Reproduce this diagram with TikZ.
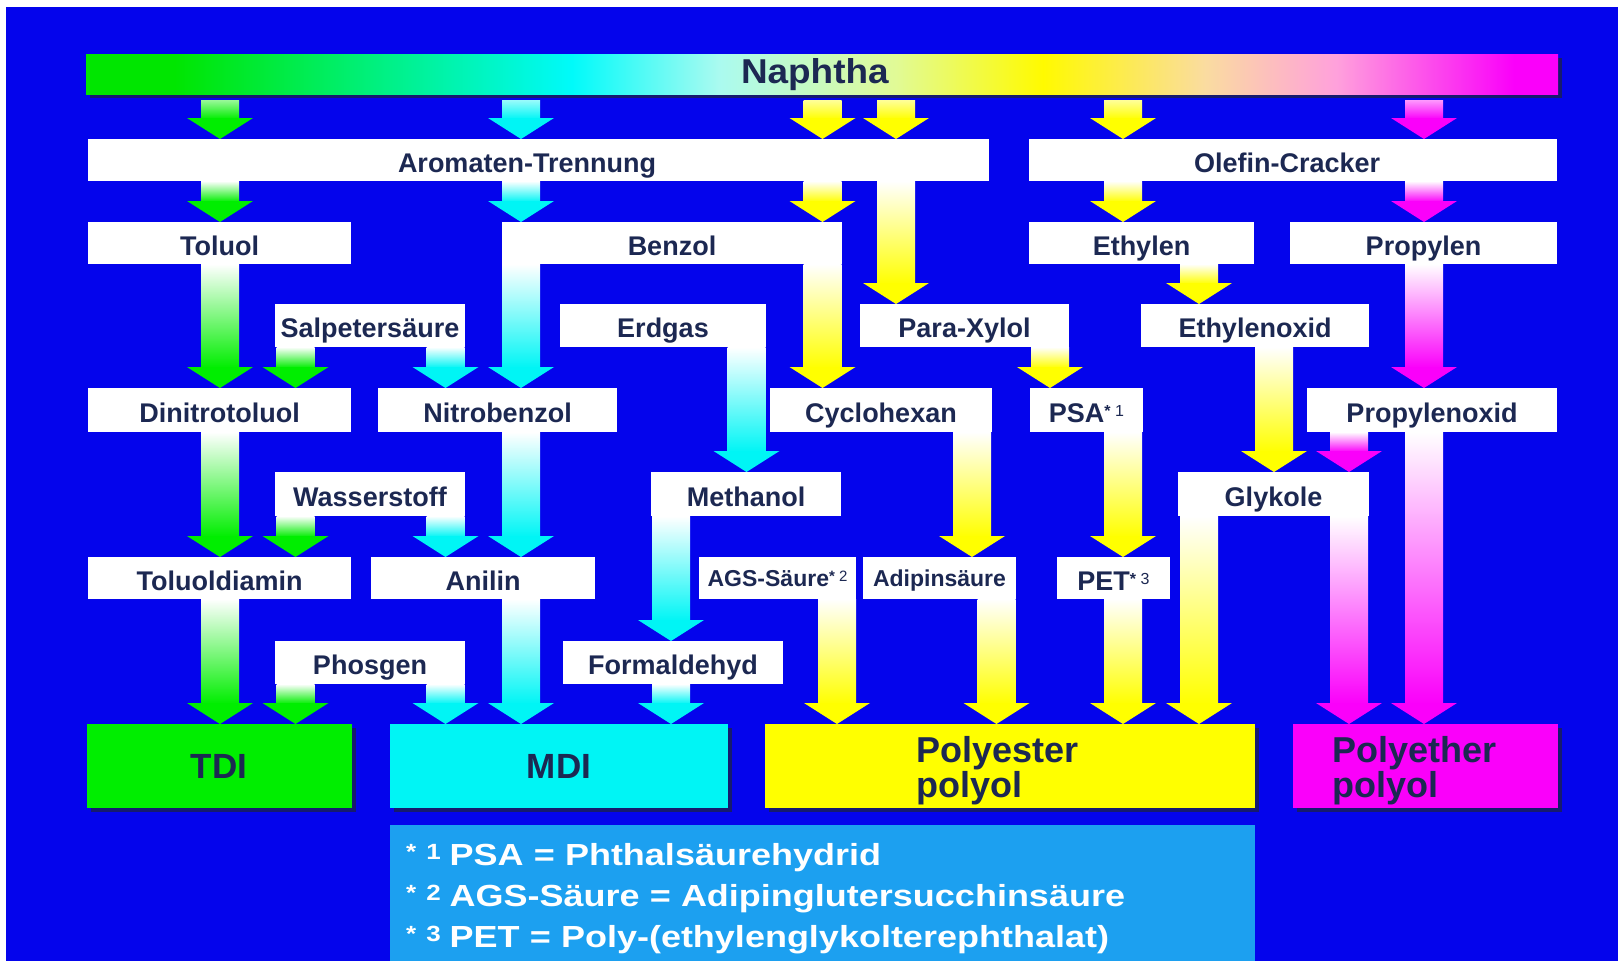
\documentclass[tikz,border=0pt]{standalone}
\usepackage{fontspec}
\setmainfont{Liberation Sans}
\newfontfamily\legendfont{Liberation Sans Bold}[FakeStretch=1.18]
\newfontfamily\titlefont{Liberation Sans Bold}[FakeStretch=1.07]
\usetikzlibrary{calc,positioning,shadows}

\definecolor{bgblue}{RGB}{4,4,236}
\definecolor{ink}{RGB}{28,40,82}
\definecolor{tdigreen}{RGB}{0,238,0}
\definecolor{mdicyan}{RGB}{0,245,245}
\definecolor{pesyellow}{RGB}{255,255,0}
\definecolor{pethmagenta}{RGB}{250,0,250}
\definecolor{legendblue}{RGB}{28,160,240}
\definecolor{shadowblue}{RGB}{22,26,110}
% colours along the naphtha bar
\definecolor{nA}{RGB}{0,230,0}
\definecolor{nB}{RGB}{0,250,250}
\definecolor{nC}{RGB}{170,250,240}
\definecolor{nD}{RGB}{225,250,150}
\definecolor{nE}{RGB}{255,250,0}
\definecolor{nF}{RGB}{250,220,160}
\definecolor{nG}{RGB}{255,160,220}
\definecolor{nH}{RGB}{250,0,250}
\pgfdeclarehorizontalshading{naphtha}{100bp}{color(0bp)=(nA); color(28bp)=(nA); color(41.5bp)=(nB); color(46.5bp)=(nC); color(52.5bp)=(nD); color(57.5bp)=(nE); color(63bp)=(nF); color(67.5bp)=(nG); color(73.5bp)=(nH); color(100bp)=(nH)}

% footnote mark: * and number
\newcommand{\fnmark}[2]{\raisebox{.2em}{\fontsize{#2}{#2}\selectfont *\ \mdseries #1}}
% block arrow: [top colour] column, source, target, colour
\newcommand{\flow}[5][white]{%
  \shade[top color=#1, bottom color=#5] let \p1=(#3.south -| #2), \p2=(#4.north -| #2) in
    (\x1-19pt,\y1) rectangle (\x1+19pt,\y2+20pt);
  \fill[#5] let \p1=(#3.south -| #2), \p2=(#4.north -| #2) in
    (\x1-33pt,\y2+21pt) -- (\x1+33pt,\y2+21pt) -- (\x1,\y2) -- cycle;
}

\begin{document}
\begin{tikzpicture}[x=1pt, y=-1pt,
    % box styles
    stage/.style={rectangle, fill=white, text=ink, inner sep=0pt, outer sep=0pt, font=\bfseries\fontsize{27}{30}\selectfont, text height=24pt, text depth=0pt},
    smallstage/.style={stage, font=\bfseries\fontsize{23}{26}\selectfont, text height=17pt},
    feed/.style={rectangle, shade, shading=naphtha, text=ink, inner sep=0pt, outer ysep=6pt, font=\titlefont\fontsize{34.5}{36}\selectfont, text height=18pt, text depth=0pt, text width=162pt, align=left, drop shadow={shadow xshift=4pt, shadow yshift=-4pt, fill=shadowblue, opacity=1}},
    product/.style={rectangle, text=ink, inner sep=0pt, outer sep=0pt, font=\bfseries\fontsize{35}{32}\selectfont, drop shadow={shadow xshift=4pt, shadow yshift=-4pt, fill=shadowblue, opacity=1}},
    mono/.style={product, text height=24pt, text depth=0pt},
    polyol/.style={product, font=\bfseries\fontsize{36}{32}\selectfont, text width=187pt, align=left},
    legendbox/.style={rectangle, fill=legendblue, text=white, inner xsep=16pt, inner ysep=0pt, text width=833pt, align=left, font=\legendfont\fontsize{30.5}{41}\selectfont}
]

\useasboundingbox (0,0) rectangle (1618,961);
\fill[white] (0,0) rectangle (1618,961);
\fill[bgblue] (6,7) rectangle (1618,961);

% Feedstock
\node[feed, minimum width=1472, minimum height=40] (naphtha) at (822, 74) {Naphtha};

% Separation
\node[stage, minimum width=901, minimum height=42, text width=281pt, align=left] (aromaten) at (538.5, 160) {Aromaten-Trennung};
\node[stage, minimum width=528, minimum height=42, text width=198pt, align=left] (olefin) at (1293, 160) {Olefin-Cracker};

% Basic chemicals
\node[stage, minimum width=263, minimum height=42] (toluol) at (219.5, 243) {Toluol};
\node[stage, minimum width=340, minimum height=42] (benzol) at (672, 243) {Benzol};
\node[stage, minimum width=225, minimum height=42] (ethylen) at (1141.5, 243) {Ethylen};
\node[stage, minimum width=267, minimum height=42] (propylen) at (1423.5, 243) {Propylen};

\node[stage, minimum width=190, minimum height=43] (salpeter) at (370, 325.5) {Salpetersäure};
\node[stage, minimum width=206, minimum height=43] (erdgas) at (663, 325.5) {Erdgas};
\node[stage, minimum width=209, minimum height=43] (para_xylol) at (964.5, 325.5) {Para-Xylol};
\node[stage, minimum width=228, minimum height=43] (ethylenoxid) at (1255, 325.5) {Ethylenoxid};

% Intermediates
\node[stage, minimum width=263, minimum height=44] (dinitro) at (219.5, 410) {Dinitrotoluol};
\node[stage, minimum width=239, minimum height=44] (nitrobenzol) at (497.5, 410) {Nitrobenzol};
\node[stage, minimum width=222, minimum height=44] (cyclohexan) at (881, 410) {Cyclohexan};
\node[stage, minimum width=113, minimum height=44] (psa) at (1086.5, 410) {PSA\fnmark{1}{16}};
\node[stage, minimum width=250, minimum height=44] (propylenoxid) at (1432, 410) {Propylenoxid};

\node[stage, minimum width=190, minimum height=44] (wasserstoff) at (370, 494) {Wasserstoff};
\node[stage, minimum width=190, minimum height=44] (methanol) at (746, 494) {Methanol};
\node[stage, minimum width=191, minimum height=44] (glykole) at (1273.5, 494) {Glykole};

\node[stage, minimum width=263, minimum height=42] (toluoldiamin) at (219.5, 578) {Toluoldiamin};
\node[stage, minimum width=224, minimum height=42] (anilin) at (483, 578) {Anilin};
\node[smallstage, minimum width=157, minimum height=42] (ags) at (777.5, 578) {AGS-Säure\fnmark{2}{15}};
\node[smallstage, minimum width=153, minimum height=42] (adipin) at (939.5, 578) {Adipinsäure};
\node[stage, minimum width=113, minimum height=42] (pet) at (1113.5, 578) {PET\fnmark{3}{16}};

\node[stage, minimum width=190, minimum height=43] (phosgen) at (370, 662.5) {Phosgen};
\node[stage, minimum width=220, minimum height=43] (formaldehyd) at (673, 662.5) {Formaldehyd};

% Products
\node[mono, fill=tdigreen, minimum width=265, minimum height=84] (tdi) at (219, 766) {TDI};
\node[mono, fill=mdicyan, minimum width=338, minimum height=84] (mdi) at (559, 766) {MDI};
\node[polyol, fill=pesyellow, minimum width=490, minimum height=84] (polyester) at (1010, 766) {\rule{0pt}{36pt}Polyester\\polyol};
\node[polyol, fill=pethmagenta, minimum width=265, minimum height=84] (polyether) at (1425.5, 766) {\rule{0pt}{36pt}Polyether\\polyol};

% Footnotes
\node[legendbox, minimum width=865, minimum height=136] (legend) at (822.5, 893) {\rule{0pt}{34pt}\fnmark{1}{22}\hspace{9pt}PSA = Phthalsäurehydrid\\
    \fnmark{2}{22}\hspace{9pt}AGS-Säure = Adipinglutersucchinsäure\\
    \fnmark{3}{22}\hspace{9pt}PET = Poly-(ethylenglykolterephthalat)};

% Arrow columns
\coordinate (col_tol) at (220, 0);
\coordinate (col_salp_l) at (295.5, 0);
\coordinate (col_salp_r) at (445.5, 0);
\coordinate (col_benz) at (521, 0);
\coordinate (col_meth) at (671, 0);
\coordinate (col_erd) at (746.5, 0);
\coordinate (col_cyc) at (822.5, 0);
\coordinate (col_ags) at (837, 0);
\coordinate (col_xyl) at (896, 0);
\coordinate (col_adi_in) at (972, 0);
\coordinate (col_adi) at (996.5, 0);
\coordinate (col_psa) at (1050, 0);
\coordinate (col_pet) at (1123, 0);
\coordinate (col_eth) at (1199, 0);
\coordinate (col_eox) at (1274, 0);
\coordinate (col_glyk) at (1349, 0);
\coordinate (col_prop) at (1424, 0);

% From naphtha
\flow[tdigreen!40!white]{col_tol}{naphtha}{aromaten}{tdigreen}
\flow[mdicyan!40!white]{col_benz}{naphtha}{aromaten}{mdicyan}
\flow[pesyellow!40!white]{col_cyc}{naphtha}{aromaten}{pesyellow}
\flow[pesyellow!40!white]{col_xyl}{naphtha}{aromaten}{pesyellow}
\flow[pesyellow!40!white]{col_pet}{naphtha}{olefin}{pesyellow}
\flow[pethmagenta!40!white]{col_prop}{naphtha}{olefin}{pethmagenta}

% Separation to basic chemicals
\flow{col_tol}{aromaten}{toluol}{tdigreen}
\flow{col_benz}{aromaten}{benzol}{mdicyan}
\flow{col_cyc}{aromaten}{benzol}{pesyellow}
\flow{col_xyl}{aromaten}{para_xylol}{pesyellow}
\flow{col_pet}{olefin}{ethylen}{pesyellow}
\flow{col_prop}{olefin}{propylen}{pethmagenta}

\flow{col_tol}{toluol}{dinitro}{tdigreen}
\flow{col_benz}{benzol}{nitrobenzol}{mdicyan}
\flow{col_cyc}{benzol}{cyclohexan}{pesyellow}
\flow{col_eth}{ethylen}{ethylenoxid}{pesyellow}
\flow{col_prop}{propylen}{propylenoxid}{pethmagenta}

\flow{col_salp_l}{salpeter}{dinitro}{tdigreen}
\flow{col_salp_r}{salpeter}{nitrobenzol}{mdicyan}
\flow{col_erd}{erdgas}{methanol}{mdicyan}
\flow{col_psa}{para_xylol}{psa}{pesyellow}
\flow{col_eox}{ethylenoxid}{glykole}{pesyellow}

% Intermediates
\flow{col_tol}{dinitro}{toluoldiamin}{tdigreen}
\flow{col_benz}{nitrobenzol}{anilin}{mdicyan}
\flow{col_adi_in}{cyclohexan}{adipin}{pesyellow}
\flow{col_pet}{psa}{pet}{pesyellow}
\flow{col_glyk}{propylenoxid}{glykole}{pethmagenta}
\flow{col_prop}{propylenoxid}{polyether}{pethmagenta}

\flow{col_salp_l}{wasserstoff}{toluoldiamin}{tdigreen}
\flow{col_salp_r}{wasserstoff}{anilin}{mdicyan}
\flow{col_meth}{methanol}{formaldehyd}{mdicyan}
\flow{col_eth}{glykole}{polyester}{pesyellow}
\flow{col_glyk}{glykole}{polyether}{pethmagenta}

% Into products
\flow{col_tol}{toluoldiamin}{tdi}{tdigreen}
\flow{col_benz}{anilin}{mdi}{mdicyan}
\flow{col_ags}{ags}{polyester}{pesyellow}
\flow{col_adi}{adipin}{polyester}{pesyellow}
\flow{col_pet}{pet}{polyester}{pesyellow}

\flow{col_salp_l}{phosgen}{tdi}{tdigreen}
\flow{col_salp_r}{phosgen}{mdi}{mdicyan}
\flow{col_meth}{formaldehyd}{mdi}{mdicyan}

\end{tikzpicture}
\end{document}
